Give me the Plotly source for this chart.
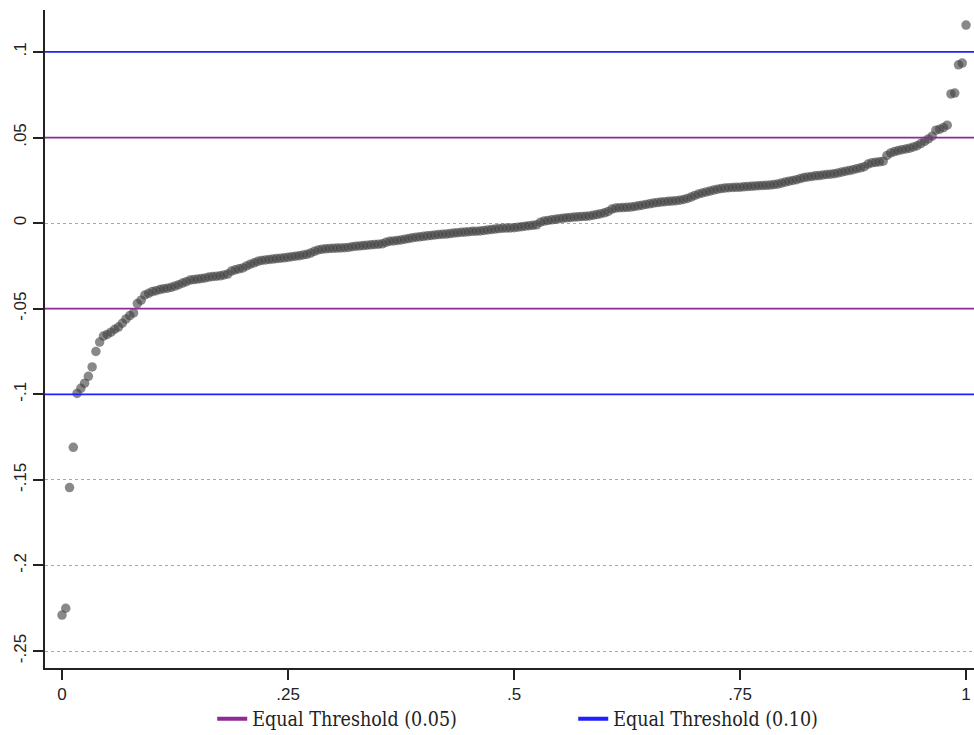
import plotly.graph_objects as go

# Sorted estimates (ascending) plotted against their rank share in [0, 1]
estimates = [
    -0.2290, -0.2250, -0.1545, -0.1310, -0.0995, -0.0965, -0.0935, -0.0895, -0.0840, -0.0750,
    -0.0695, -0.0660, -0.0650, -0.0637, -0.0620, -0.0607, -0.0585, -0.0560, -0.0540, -0.0525,
    -0.0470, -0.0450, -0.0420, -0.0410, -0.0400, -0.0395, -0.0388, -0.0383, -0.0380, -0.0375,
    -0.0368, -0.0360, -0.0350, -0.0342, -0.0333, -0.0330, -0.0327, -0.0324, -0.0320, -0.0315,
    -0.0312, -0.0310, -0.0308, -0.0303, -0.0298, -0.0280, -0.0273, -0.0267, -0.0262, -0.0250,
    -0.0240, -0.0232, -0.0223, -0.0218, -0.0215, -0.0212, -0.0210, -0.0207, -0.0205, -0.0203,
    -0.0200, -0.0196, -0.0193, -0.0190, -0.0186, -0.0182, -0.0175, -0.0165, -0.0157, -0.0152,
    -0.0150, -0.0148, -0.0147, -0.0146, -0.0145, -0.0144, -0.0142, -0.0138, -0.0135, -0.0133,
    -0.0131, -0.0129, -0.0127, -0.0125, -0.0123, -0.0121, -0.0112, -0.0106, -0.0104, -0.0101,
    -0.0098, -0.0094, -0.0090, -0.0086, -0.0082, -0.0080, -0.0077, -0.0074, -0.0072, -0.0069,
    -0.0067, -0.0065, -0.0064, -0.0061, -0.0058, -0.0056, -0.0054, -0.0052, -0.0050, -0.0048,
    -0.0047, -0.0046, -0.0043, -0.0040, -0.0037, -0.0035, -0.0032, -0.0030, -0.0029, -0.0028,
    -0.0027, -0.0024, -0.0021, -0.0018, -0.0015, -0.0013, -0.0010, 0.0005, 0.0012, 0.0016,
    0.0019, 0.0022, 0.0026, 0.0029, 0.0031, 0.0033, 0.0035, 0.0037, 0.0039, 0.0040,
    0.0042, 0.0046, 0.0050, 0.0055, 0.0060, 0.0068, 0.0082, 0.0088, 0.0090, 0.0091,
    0.0092, 0.0094, 0.0097, 0.0101, 0.0105, 0.0109, 0.0113, 0.0117, 0.0120, 0.0123,
    0.0125, 0.0127, 0.0129, 0.0131, 0.0134, 0.0138, 0.0144, 0.0152, 0.0162, 0.0170,
    0.0176, 0.0182, 0.0187, 0.0193, 0.0198, 0.0202, 0.0205, 0.0207, 0.0208, 0.0209,
    0.0210, 0.0212, 0.0214, 0.0215, 0.0217, 0.0219, 0.0220, 0.0221, 0.0222, 0.0225,
    0.0228, 0.0234, 0.0240, 0.0245, 0.0249, 0.0254, 0.0260, 0.0266, 0.0270, 0.0273,
    0.0276, 0.0278, 0.0281, 0.0284, 0.0286, 0.0289, 0.0293, 0.0298, 0.0303, 0.0307,
    0.0312, 0.0318, 0.0323, 0.0330, 0.0345, 0.0352, 0.0355, 0.0358, 0.0362, 0.0395,
    0.0410, 0.0418, 0.0424, 0.0429, 0.0433, 0.0438, 0.0445, 0.0452, 0.0465, 0.0478,
    0.0492, 0.0508, 0.0543, 0.0549, 0.0558, 0.0572, 0.0755, 0.0760, 0.0925, 0.0935,
    0.1157,
]
n_obs = len(estimates)
rank_share = [i / (n_obs - 1) for i in range(n_obs)]

thresholds_05 = [0.05, -0.05]
thresholds_10 = [0.10, -0.10]
legend_labels = ["Equal Threshold (0.05)", "Equal Threshold (0.10)"]

x_ticks = [0, 0.25, 0.5, 0.75, 1]
x_tick_text = ["0", ".25", ".5", ".75", "1"]
y_ticks = [0.1, 0.05, 0, -0.05, -0.1, -0.15, -0.2, -0.25]
y_tick_text = [".1", ".05", "0", "-.05", "-.1", "-.15", "-.2", "-.25"]

x_range = [-0.0188, 1.0088]
y_range = [-0.2599, 0.1245]

purple = "#8e2a96"
blue = "#1f1fff"

fig = go.Figure()

fig.add_trace(go.Scatter(
    x=rank_share, y=estimates, mode="markers",
    marker=dict(size=9.5, color="rgba(65,65,65,0.62)", line=dict(width=0)),
    showlegend=False, hoverinfo="x+y",
))

# Threshold reference lines spanning the full x-axis
for val in thresholds_05:
    fig.add_trace(go.Scatter(x=x_range, y=[val, val], mode="lines",
                             line=dict(color=purple, width=1.7),
                             showlegend=False, hoverinfo="skip"))
for val in thresholds_10:
    fig.add_trace(go.Scatter(x=x_range, y=[val, val], mode="lines",
                             line=dict(color=blue, width=1.7),
                             showlegend=False, hoverinfo="skip"))

# Legend keys (thicker samples)
for label, col in zip(legend_labels, [purple, blue]):
    fig.add_trace(go.Scatter(x=[None], y=[None], mode="lines",
                             line=dict(color=col, width=4), name=label))

tick_font = dict(family="Liberation Sans Narrow, Liberation Sans, Arial", size=17, color="#222")

fig.update_layout(
    width=974, height=735,
    margin=dict(l=45, r=0, t=10, b=67, autoexpand=False),
    paper_bgcolor="white", plot_bgcolor="white",
    showlegend=True,
    legend=dict(
        orientation="h", x=0.18, xanchor="left", y=-0.0775, yanchor="middle",
        font=dict(family="DejaVu Serif Condensed, DejaVu Serif, serif", size=19.5, color="#222"),
        entrywidth=316, entrywidthmode="pixels",
        bgcolor="rgba(0,0,0,0)", itemwidth=30,
    ),
    xaxis=dict(
        range=x_range, tickvals=x_ticks, ticktext=x_tick_text,
        showgrid=False, zeroline=False,
        showline=True, linecolor="#222", linewidth=2,
        ticks="outside", ticklen=10, tickwidth=2, tickcolor="#222",
        tickfont=tick_font,
    ),
    yaxis=dict(
        range=y_range, tickvals=y_ticks, ticktext=y_tick_text,
        tickangle=-90,
        showgrid=True, gridcolor="#a8a8a8", griddash="dot", gridwidth=1,
        zeroline=False,
        showline=True, linecolor="#222", linewidth=2,
        ticks="outside", ticklen=10, tickwidth=2, tickcolor="#222",
        tickfont=tick_font,
    ),
)

fig.write_html("out.html")
